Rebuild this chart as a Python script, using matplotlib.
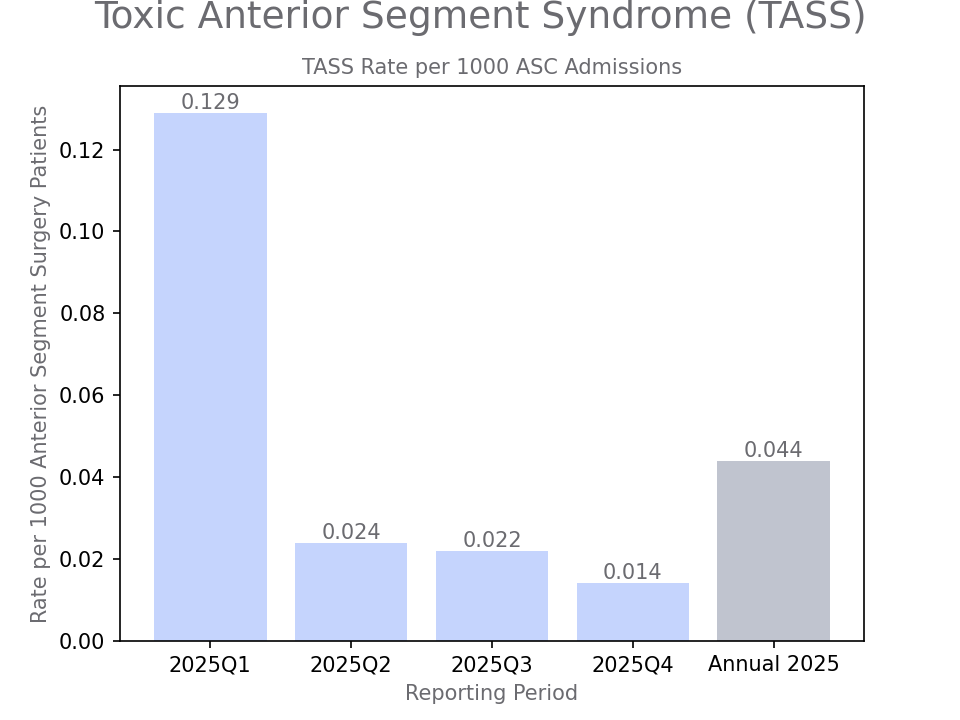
import matplotlib.pyplot as plt

periods = ["2025Q1", "2025Q2", "2025Q3", "2025Q4", "Annual 2025"]
rates = [0.129, 0.024, 0.022, 0.014, 0.044]
colors = ["#c5d4fd", "#c5d4fd", "#c5d4fd", "#c5d4fd", "#c0c4cf"]

grey = "#6b6b70"

fig, ax = plt.subplots(figsize=(6.4, 4.8), dpi=150)
bars = ax.bar(periods, rates, color=colors)
ax.bar_label(bars, fmt="%.3f", color=grey, fontsize=10)

fig.suptitle("Toxic Anterior Segment Syndrome (TASS)", fontsize=18, color=grey, y=1.0)
ax.set_title("TASS Rate per 1000 ASC Admissions", fontsize=10, color=grey)
ax.set_xlabel("Reporting Period", color=grey)
ax.set_ylabel("Rate per 1000 Anterior Segment Surgery Patients", color=grey)

plt.savefig("out.png")
